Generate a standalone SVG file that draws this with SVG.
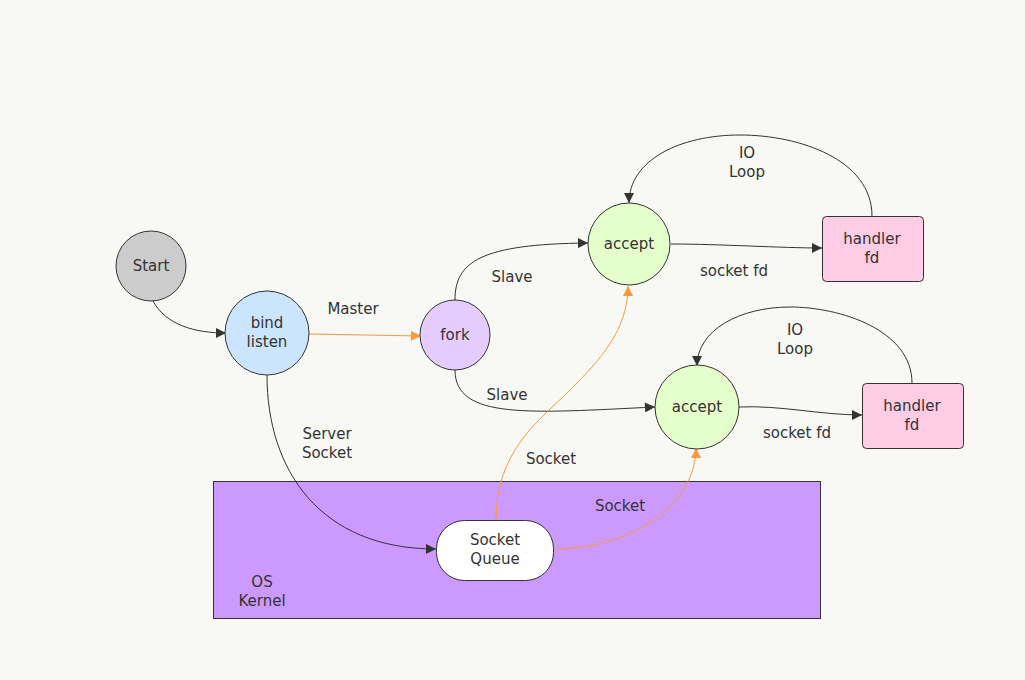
<svg xmlns="http://www.w3.org/2000/svg" width="1025" height="680" viewBox="0 0 1025 680">
<defs>
<marker id="ab" viewBox="0 0 10 10" refX="10" refY="5" markerWidth="12" markerHeight="10" markerUnits="userSpaceOnUse" orient="auto"><path d="M0,0 L10,5 L0,10 z" fill="#333"/></marker>
<marker id="ao" viewBox="0 0 10 10" refX="10" refY="5" markerWidth="12" markerHeight="10" markerUnits="userSpaceOnUse" orient="auto"><path d="M0,0 L10,5 L0,10 z" fill="#ff9933"/></marker>
</defs>
<style>
text{font-family:"DejaVu Sans","Noto Sans",sans-serif;font-size:15px;fill:#333;text-anchor:middle}
.n{stroke:#333;stroke-width:1}
.e{fill:none;stroke:#333;stroke-width:1;marker-end:url(#ab)}
.o{fill:none;stroke:#ff9933;stroke-width:1;marker-end:url(#ao)}
</style>
<rect width="1025" height="680" fill="#f8f8f4"/>
<g id="kernel"><rect class="n" x="213.5" y="481.5" width="607" height="137" fill="#cc99ff"/><text x="262" y="587">OS<tspan x="262" dy="19">Kernel</tspan></text></g>
<g id="connectors">
<path class="e" d="M153,301 C166,325 195,333 226,333"/>
<path class="o" d="M309,334 L421,336"/>
<text x="353" y="314">Master</text>
<path class="e" d="M455,300 C455,262 480,244 588,243"/>
<text x="512" y="282">Slave</text>
<path class="e" d="M455,370 C455,420 530,413 655,407"/>
<text x="507" y="400">Slave</text>
<path class="e" d="M671,244 C720,244 780,248 822,248"/>
<text x="734" y="276">socket fd</text>
<path class="e" d="M739,407 C780,405 820,415 862,415"/>
<text x="797" y="438">socket fd</text>
<path class="e" d="M872,216 C872,160 800,135 740,135 C680,135 629,160 629,203"/>
<text x="747" y="158">IO<tspan x="747" dy="19">Loop</tspan></text>
<path class="e" d="M912,383 C912,330 840,307 790,307 C740,307 697,330 697,366"/>
<text x="795" y="335">IO<tspan x="795" dy="19">Loop</tspan></text>
<path class="e" d="M267,375 C267,470 320,549 436,549"/>
<text x="327" y="439">Server<tspan x="327" dy="19">Socket</tspan></text>
<path class="o" d="M496,520 C496,450 540,420 570,390 C600,360 628,330 628,286"/>
<text x="551" y="464">Socket</text>
<path class="o" d="M553,549 C640,548 696,500 696,448"/>
<text x="620" y="511">Socket</text>
</g>
<g id="start"><circle class="n" cx="151" cy="266" r="35" fill="#cccccc"/><text x="151" y="271">Start</text></g>
<g id="bind"><circle class="n" cx="267" cy="333" r="42" fill="#cce5ff"/><text x="267" y="328">bind<tspan x="267" dy="19">listen</tspan></text></g>
<g id="fork"><circle class="n" cx="455" cy="335" r="35" fill="#e5ccff"/><text x="455" y="340">fork</text></g>
<g id="accept1"><circle class="n" cx="629" cy="244" r="41" fill="#e5ffcc"/><text x="629" y="249">accept</text></g>
<g id="accept2"><circle class="n" cx="697" cy="407" r="42" fill="#e5ffcc"/><text x="697" y="412">accept</text></g>
<g id="handler1"><rect class="n" x="822.5" y="216.5" width="101" height="65" rx="4" fill="#ffcce5"/><text x="872" y="244">handler<tspan x="872" dy="19">fd</tspan></text></g>
<g id="handler2"><rect class="n" x="862.5" y="383.5" width="101" height="65" rx="4" fill="#ffcce5"/><text x="912" y="411">handler<tspan x="912" dy="19">fd</tspan></text></g>
<g id="queue"><rect class="n" x="436.5" y="520.5" width="117" height="60" rx="28" fill="#ffffff"/><text x="495" y="545">Socket<tspan x="495" dy="19">Queue</tspan></text></g>
</svg>
